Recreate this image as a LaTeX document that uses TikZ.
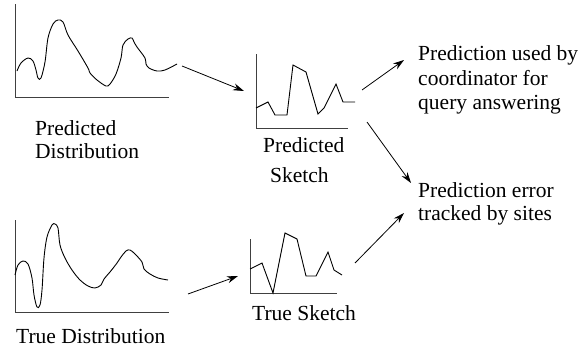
\documentclass[tikz,border=0pt]{standalone}
\usepackage{fontspec}
\setmainfont{Liberation Serif}
\newfontfamily\lblfont{Liberation Serif}
\usetikzlibrary{arrows.meta}
\begin{document}
\begin{tikzpicture}[x={(1pt,0)},y={(0,-1pt)},
  lbl/.style={anchor=base west,inner sep=0pt,font=\lblfont\fontsize{21.5}{24}\selectfont},
  axis/.style={line width=0.9pt,black!75},
  curve/.style={line width=0.9pt,black},
  arr/.style={line width=0.8pt,-{Stealth[length=11pt,width=7pt]}}]
\useasboundingbox (0,0) rectangle (584,348);
% top chart
\draw[axis] (15,4) -- (15,97) -- (169,97);
\draw[curve] plot[smooth,tension=0.55] coordinates {(17,71) (21,63) (28,58) (33,61) (36,70) (38,78) (41,78) (45,62) (48,38) (53,24) (58,20) (63,22) (68,35) (78,51) (88,68) (90,73) (97,80) (106,86) (110,84) (116,74) (121,58) (123,45) (128,39) (132,38) (134,42) (137,47) (145,58) (146,64) (149,68) (157,71) (165,70) (177,64)};
% bottom chart
\draw[axis] (15,220) -- (15,312) -- (169,312);
\draw[curve] plot[smooth,tension=0.55] coordinates {(15,275) (18,265) (23,261) (28,264) (32,278) (34,295) (37,307) (40,305) (42,290) (44,258) (47,237) (52,225) (55,224) (58,228) (60,245) (65,258) (72,270) (80,280) (88,286) (95,288) (101,285) (104,279) (110,272) (117,263) (121,257) (126,251) (130,250) (135,254) (142,262) (144,269) (150,274) (158,278) (168,280)};
% predicted sketch
\draw[axis] (256,54) -- (256,128) -- (348,128);
\draw[curve] (256,108) -- (268,102) -- (275,115) -- (287,115) -- (293,65) -- (306,72) -- (318,114) -- (324,108) -- (336,84) -- (343,102) -- (355,102);
% true sketch
\draw[axis] (250,239) -- (250,293) -- (337,293);
\draw[curve] (250,269) -- (262,263) -- (273,293) -- (285,233) -- (297,239) -- (306,276) -- (316,276) -- (328,252) -- (334,270) -- (342,275);
% labels
\node[lbl] (pd1) at (35,135) {Predicted};
\node[lbl] (pd2) at (35,158) {Distribution};
\node[lbl] (ps1) at (263,152) {Predicted};
\node[lbl] (ps2) at (270,182) {Sketch};
\node[lbl] (td) at (16,343) {True Distribution};
\node[lbl] (ts) at (252,320) {True Sketch};
\node[lbl] (u1) at (418,60) {Prediction used by};
\node[lbl] (u2) at (418,85) {coordinator for};
\node[lbl] (u3) at (418,109) {query answering};
\node[lbl] (e1) at (418,197) {Prediction error};
\node[lbl] (e2) at (418,220) {tracked by sites};
% arrows
\coordinate (a1s) at (182,66); \coordinate (a1e) at (244,91);
\coordinate (a2s) at (188,294); \coordinate (a2e) at (238,276);
\coordinate (a3s) at (362,90); \coordinate (a3e) at (404,60);
\coordinate (a4s) at (367,122); \coordinate (a4e) at (411,183);
\coordinate (a5s) at (355,263); \coordinate (a5e) at (404,213);
\draw[arr] (a1s) -- (a1e);
\draw[arr] (a2s) -- (a2e);
\draw[arr] (a3s) -- (a3e);
\draw[arr] (a4s) -- (a4e);
\draw[arr] (a5s) -- (a5e);
\end{tikzpicture}
\end{document}
